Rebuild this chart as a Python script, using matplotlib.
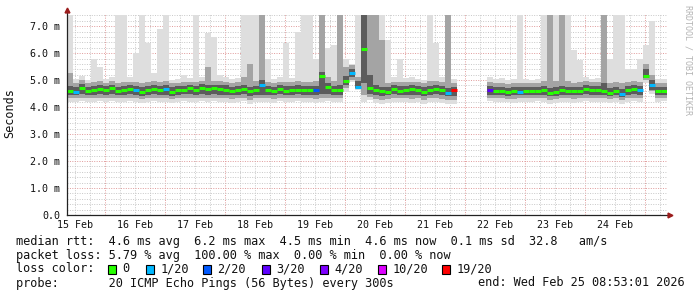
import numpy as np
import matplotlib.pyplot as plt
from matplotlib.patches import Rectangle

nan = np.nan

# czas: dni od 15 Feb 00:00, start 08:53, krok 2.4 h
t_start = 8.883 / 24
step = 0.1
day_labels = ['15 Feb', '16 Feb', '17 Feb', '18 Feb', '19 Feb',
              '20 Feb', '21 Feb', '22 Feb', '23 Feb', '24 Feb']

median = [4.59, 4.57, 4.72, 4.59, 4.63, 4.67, 4.63, 4.70, 4.60, 4.63,
          4.67, 4.63, 4.57, 4.63, 4.67, 4.63, 4.66, 4.57, 4.63, 4.63,
          4.69, 4.63, 4.72, 4.67, 4.70, 4.66, 4.65, 4.60, 4.63, 4.68,
          4.60, 4.63, 4.80, 4.63, 4.60, 4.68, 4.61, 4.62, 4.65, 4.63,
          4.63, 4.62, 5.15, 4.75, 4.62, 4.62, 4.95, 5.27, 4.75, 6.15,
          4.70, 4.63, 4.59, 4.57, 4.66, 4.61, 4.65, 4.67, 4.62, 4.57,
          4.64, 4.68, 4.62, 4.52, 4.64, nan, nan, nan, nan, nan,
          4.64, 4.58, 4.60, 4.55, 4.58, 4.57, 4.60, 4.59, 4.60, 4.63,
          4.52, 4.57, 4.63, 4.58, 4.58, 4.60, 4.68, 4.64, 4.63, 4.60,
          4.54, 4.59, 4.49, 4.63, 4.66, 4.63, 5.15, 4.80, 4.60, 4.59]

loss = [0, 1, 0, 0, 0, 0, 0, 0, 0, 0,
        0, 1, 0, 0, 0, 0, 1, 0, 0, 0,
        0, 0, 0, 0, 0, 0, 0, 0, 0, 0,
        0, 0, 1, 0, 0, 0, 0, 0, 0, 0,
        0, 2, 0, 0, 0, 0, 0, 1, 1, 0,
        0, 0, 0, 0, 0, 0, 0, 0, 0, 0,
        0, 0, 0, 1, 19, 0, 0, 0, 0, 0,
        3, 0, 0, 0, 0, 1, 0, 0, 0, 0,
        0, 0, 0, 0, 0, 0, 0, 0, 0, 0,
        0, 0, 1, 0, 0, 1, 0, 1, 0, 0]

s_min = [4.18, 4.20, 4.22, 4.18, 4.20, 4.22, 4.18, 4.22, 4.18, 4.20,
         4.22, 4.18, 4.15, 4.20, 4.22, 4.18, 4.20, 4.15, 4.20, 4.22,
         4.20, 4.18, 4.22, 4.20, 4.22, 4.20, 4.18, 4.15, 4.20, 4.22,
         4.12, 4.20, 4.18, 4.20, 4.15, 4.22, 4.18, 4.20, 4.22, 4.20,
         4.18, 4.15, 4.20, 4.22, 4.20, 4.18, 4.55, 4.92, 4.65, 4.20,
         4.25, 4.15, 4.10, 4.15, 4.20, 4.18, 4.20, 4.15, 4.18, 4.12,
         4.18, 4.20, 4.15, 4.12, 4.10, nan, nan, nan, nan, nan,
         4.22, 4.18, 4.20, 4.18, 4.15, 4.18, 4.20, 4.18, 4.22, 4.20,
         4.12, 4.15, 4.20, 4.18, 4.15, 4.20, 4.22, 4.20, 4.18, 4.20,
         4.15, 4.18, 4.10, 4.20, 4.22, 4.20, 4.90, 4.50, 4.20, 4.22]

s_10 = [4.32, 4.33, 4.35, 4.32, 4.33, 4.35, 4.32, 4.35, 4.32, 4.33,
        4.35, 4.32, 4.30, 4.33, 4.35, 4.32, 4.33, 4.30, 4.33, 4.35,
        4.33, 4.32, 4.35, 4.33, 4.35, 4.33, 4.32, 4.30, 4.33, 4.35,
        4.28, 4.33, 4.32, 4.33, 4.30, 4.35, 4.32, 4.33, 4.35, 4.33,
        4.32, 4.30, 4.33, 4.35, 4.33, 4.32, 4.70, 5.02, 4.68, 4.45,
        4.38, 4.30, 4.28, 4.30, 4.33, 4.32, 4.33, 4.30, 4.32, 4.28,
        4.32, 4.33, 4.30, 4.28, 4.26, nan, nan, nan, nan, nan,
        4.33, 4.32, 4.33, 4.30, 4.30, 4.32, 4.33, 4.32, 4.35, 4.33,
        4.28, 4.30, 4.33, 4.32, 4.30, 4.33, 4.35, 4.33, 4.32, 4.33,
        4.30, 4.32, 4.26, 4.33, 4.35, 4.33, 5.00, 4.58, 4.33, 4.35]

s_25 = [4.45, 4.44, 4.48, 4.45, 4.46, 4.48, 4.45, 4.48, 4.44, 4.46,
        4.48, 4.45, 4.42, 4.46, 4.48, 4.45, 4.46, 4.42, 4.46, 4.47,
        4.47, 4.45, 4.48, 4.46, 4.48, 4.46, 4.45, 4.43, 4.46, 4.48,
        4.42, 4.46, 4.46, 4.46, 4.43, 4.48, 4.45, 4.46, 4.47, 4.46,
        4.45, 4.44, 4.50, 4.50, 4.46, 4.46, 4.80, 5.10, 4.72, 4.90,
        4.50, 4.45, 4.42, 4.43, 4.47, 4.45, 4.46, 4.44, 4.45, 4.42,
        4.45, 4.47, 4.44, 4.40, 4.40, nan, nan, nan, nan, nan,
        4.46, 4.44, 4.45, 4.42, 4.43, 4.44, 4.45, 4.44, 4.46, 4.46,
        4.40, 4.42, 4.46, 4.44, 4.43, 4.45, 4.48, 4.46, 4.45, 4.45,
        4.42, 4.44, 4.38, 4.46, 4.48, 4.46, 5.08, 4.65, 4.46, 4.46]

s_75 = [4.78, 4.76, 4.85, 4.76, 4.78, 4.80, 4.78, 4.82, 4.76, 4.78,
        4.80, 4.78, 4.75, 4.78, 4.80, 4.78, 4.80, 4.75, 4.78, 4.78,
        4.80, 4.78, 4.84, 4.80, 4.82, 4.80, 4.80, 4.76, 4.78, 4.82,
        4.76, 4.78, 5.00, 4.78, 4.76, 4.80, 4.77, 4.78, 4.80, 4.78,
        4.78, 4.78, 5.30, 4.90, 4.78, 4.80, 5.15, 5.40, 4.95, 7.40,
        5.20, 4.80, 4.76, 4.74, 4.80, 4.77, 4.78, 4.80, 4.77, 4.74,
        4.78, 4.82, 4.77, 4.72, 4.76, nan, nan, nan, nan, nan,
        4.78, 4.74, 4.76, 4.72, 4.74, 4.74, 4.76, 4.75, 4.76, 4.78,
        4.72, 4.74, 4.78, 4.74, 4.74, 4.76, 4.82, 4.78, 4.78, 4.90,
        4.72, 4.75, 4.68, 4.78, 4.80, 4.78, 5.40, 5.00, 4.76, 4.74]

s_90 = [5.25, 4.88, 5.00, 4.88, 4.92, 4.95, 4.90, 4.95, 4.90, 4.92,
        4.94, 4.92, 4.90, 4.92, 4.95, 4.92, 4.95, 4.88, 4.90, 4.92,
        4.94, 4.92, 4.98, 5.50, 4.98, 4.95, 4.94, 4.90, 4.92, 5.10,
        5.60, 4.95, 7.40, 4.92, 4.90, 4.94, 4.92, 4.92, 4.95, 4.93,
        4.92, 4.95, 7.40, 5.10, 4.95, 7.40, 5.50, 5.55, 5.10, 7.40,
        7.40, 7.40, 6.50, 4.90, 4.94, 4.92, 4.92, 4.94, 4.92, 4.88,
        4.95, 4.96, 4.92, 7.40, 4.90, nan, nan, nan, nan, nan,
        4.92, 4.88, 4.90, 4.86, 4.88, 4.90, 4.90, 4.88, 4.90, 4.95,
        7.40, 4.95, 7.40, 4.95, 4.90, 4.92, 4.96, 4.92, 4.92, 7.40,
        4.88, 4.92, 4.88, 4.92, 4.95, 4.94, 5.60, 5.20, 4.90, 4.90]

s_max = [7.40, 5.05, 5.15, 5.02, 5.80, 5.50, 5.05, 5.10, 7.40, 7.40,
         5.10, 6.00, 7.40, 6.36, 5.25, 6.90, 7.40, 5.02, 5.05, 5.18,
         5.08, 7.40, 5.10, 6.74, 6.60, 5.20, 5.10, 5.05, 5.08, 7.40,
         7.40, 7.40, 7.40, 5.80, 5.05, 5.10, 6.36, 5.08, 6.80, 7.40,
         7.40, 5.80, 7.40, 6.20, 6.30, 7.40, 5.80, 5.60, 7.40, 7.40,
         7.40, 7.40, 7.40, 6.50, 5.10, 5.80, 5.08, 5.10, 5.05, 5.02,
         7.40, 6.36, 5.10, 7.40, 5.05, nan, nan, nan, nan, nan,
         5.10, 5.05, 5.08, 5.02, 5.05, 7.40, 5.05, 5.02, 5.05, 7.40,
         7.40, 7.40, 7.40, 7.40, 6.10, 5.75, 5.10, 5.05, 5.08, 7.40,
         5.80, 7.40, 7.40, 5.40, 5.40, 5.80, 6.30, 7.20, 5.05, 5.05]

loss_levels = [0, 1, 2, 3, 4, 10, 19]
loss_names = ['0', '1/20', '2/20', '3/20', '4/20', '10/20', '19/20']
loss_cols = ['#26ff00', '#00b8ff', '#0059ff', '#5e00ff', '#7e00ff', '#dd00ff', '#ff0000']

legend_lines = [
    'median rtt:  4.6 ms avg  6.2 ms max  4.5 ms min  4.6 ms now  0.1 ms sd  32.8   am/s',
    'packet loss: 5.79 % avg  100.00 % max  0.00 % min  0.00 % now',
    'loss color:',
    'probe:       20 ICMP Echo Pings (56 Bytes) every 300s',
]
end_text = 'end: Wed Feb 25 08:53:01 2026'

mono = 'DejaVu Sans Mono'
W, H = 697, 297

t = t_start + step * np.arange(len(median))
median = np.array(median)

fig = plt.figure(figsize=(W / 100, H / 100), dpi=100)
ax = fig.add_axes([67 / W, 82 / H, 600 / W, 201 / H])
ax.set_xlim(t_start, t_start + 10)
ax.set_ylim(0, 7.45)

# siatka
for d in np.arange(0.25, 10.5, 0.25):
    if t_start < d < t_start + 10:
        major = abs(d - round(d)) < 1e-9
        ax.axvline(d, color='#e09a9a' if major else '#c8c8c8', lw=0.7,
                   ls=(0, (1, 1.5)), zorder=0)
for v in np.arange(0.2, 7.45, 0.2):
    major = abs(v - round(v)) < 1e-9
    ax.axhline(v, color='#e09a9a' if major else '#c8c8c8', lw=0.7,
               ls=(0, (1, 1.5)), zorder=0)

# dym
bands = [(s_min, s_max, '#dedede'), (s_10, s_90, '#a4a4a4'), (s_25, s_75, '#5c5c5c')]
for lo, hi, c in bands:
    lo = np.array(lo)
    hi = np.array(hi)
    ax.bar(t, hi - lo, bottom=lo, width=step, align='edge', color=c,
           linewidth=0, zorder=2)

# mediana z kolorem strat
def loss_color(n):
    c = loss_cols[0]
    for lev, col in zip(loss_levels, loss_cols):
        if n >= lev:
            c = col
    return c

ok = ~np.isnan(median)
ax.hlines(median[ok], t[ok], t[ok] + step,
          colors=[loss_color(n) for n, k in zip(loss, ok) if k],
          linewidth=2.2, zorder=4)

# osie
for s in ax.spines.values():
    s.set_visible(False)
ax.plot([0, 0], [0, 1.025], transform=ax.transAxes, color='#222222', lw=0.9,
        clip_on=False, zorder=5)
ax.plot([0, 1.005], [0, 0], transform=ax.transAxes, color='#222222', lw=0.9,
        clip_on=False, zorder=5)
ax.plot([0], [1.02], marker='^', color='#9b1c1c', markersize=3.5,
        transform=ax.transAxes, clip_on=False, zorder=6)
ax.plot([1.005], [0], marker='>', color='#9b1c1c', markersize=3.5,
        transform=ax.transAxes, clip_on=False, zorder=6)

ax.set_yticks(range(8))
ax.set_yticklabels(['0.0'] + ['%d.0 m' % k for k in range(1, 8)])
ax.set_xticks(np.arange(10) + 0.5)
ax.set_xticklabels(day_labels)
ax.tick_params(length=0, labelsize=7.2, colors='#111111')
ax.tick_params(axis='y', pad=5)
ax.tick_params(axis='x', pad=3.5)
for lab in ax.get_xticklabels() + ax.get_yticklabels():
    lab.set_family(mono)

fig.text(10 / W, 1 - 113 / H, 'Seconds', rotation=90, ha='center', va='center',
         family=mono, fontsize=8.5, color='#111111')
fig.text(688 / W, 1 - 60 / H, 'RRDTOOL / TOBI OETIKER', rotation=270,
         ha='center', va='center', family=mono, fontsize=6, color='#b4b4b4')

# legenda
ys = [241, 255, 269, 283]
for y, line in zip(ys, legend_lines):
    fig.text(16 / W, 1 - y / H, line, ha='left', va='center', family=mono,
             fontsize=8.55, color='#111111')
fig.text(477.5 / W, 1 - 283 / H, end_text, ha='left', va='center', family=mono,
         fontsize=8.55, color='#111111')

box_x = [108, 146, 203, 262, 320, 378, 442]
for bx, name, col in zip(box_x, loss_names, loss_cols):
    fig.patches.append(Rectangle((bx / W, 1 - 273.5 / H), 8 / W, 8.5 / H,
                                 transform=fig.transFigure, facecolor=col,
                                 edgecolor='black', linewidth=0.8))
    fig.text((bx + 14.5) / W, 1 - 269 / H, name, ha='left', va='center',
             family=mono, fontsize=8.55, color='#111111')

fig.savefig('out.png', dpi=100, facecolor='white')
